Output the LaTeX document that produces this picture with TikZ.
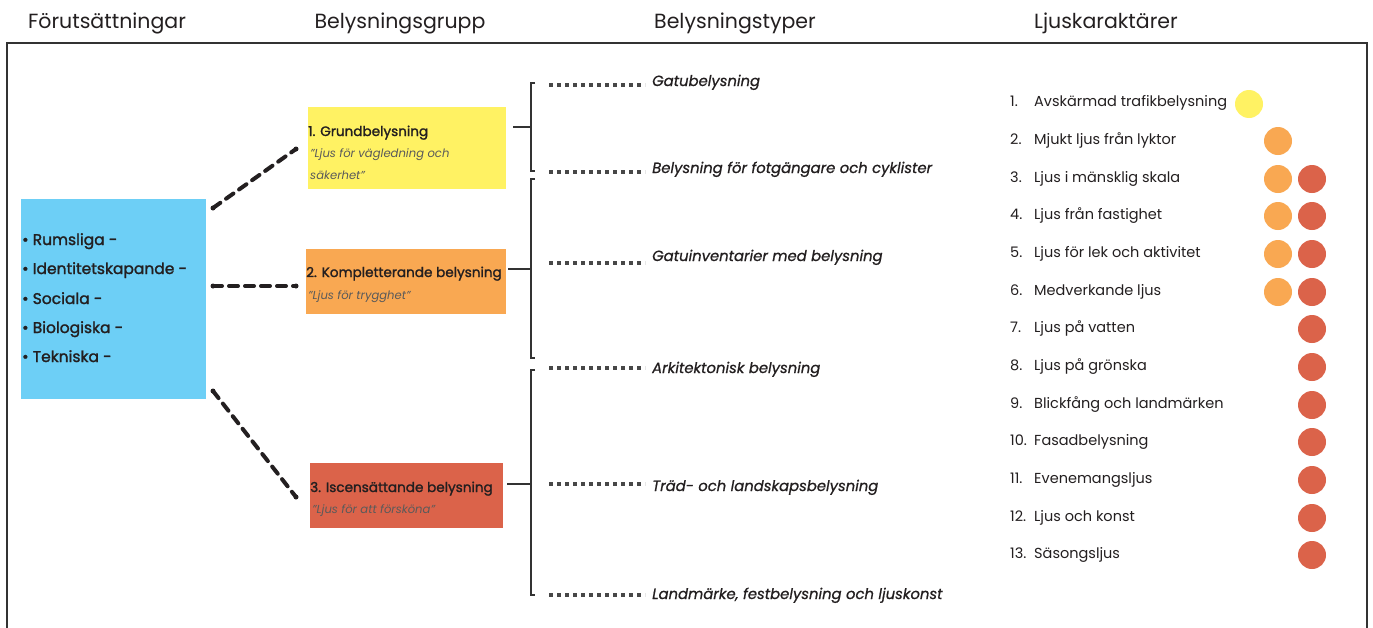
\documentclass[tikz,border=0pt]{standalone}
\usepackage{fontspec}
\setmainfont{Poppins}
\newfontfamily\medfont{Poppins}[FakeBold=1.6]
\newfontfamily\semifont{Poppins}[FakeBold=0.8]
\definecolor{cblue}{HTML}{6DCFF6}
\definecolor{cyel}{HTML}{FFF263}
\definecolor{corg}{HTML}{F9A852}
\definecolor{cred}{HTML}{DB634A}
\definecolor{ctext}{HTML}{231F20}
\definecolor{cquote}{HTML}{5A5A5A}
\definecolor{cline}{HTML}{333333}
\begin{document}
\begin{tikzpicture}[x=1pt,y=-1pt,
  title/.style={anchor=base,inner sep=0,text=ctext,font=\fontsize{20.5}{24}\selectfont},
  box/.style={anchor=north west,inner sep=0,draw=none},
  blue/.style={anchor=base west,inner sep=0,text=ctext,font=\fontsize{15.5}{18}\selectfont\medfont},
  gtitle/.style={anchor=base west,inner sep=0,text=ctext,font=\fontsize{13.6}{16}\selectfont\medfont},
  gquote/.style={anchor=base west,inner sep=0,text=cquote,font=\fontsize{11.6}{14}\selectfont\itshape},
  ttype/.style={anchor=base west,inner sep=0,text=ctext,font=\fontsize{14.8}{17}\selectfont\semifont\itshape},
  item/.style={anchor=base west,inner sep=0,text=ctext,font=\fontsize{14.5}{17}\selectfont},
  conn/.style={line width=4pt,ctext,dash pattern=on 9pt off 7pt,line cap=round},
  dots/.style={line width=4pt,cline!90,dash pattern=on 4pt off 4pt},
  brk/.style={line width=1.5pt,cline},
  dot/.style={circle,minimum size=28pt,inner sep=0,draw=none}
]
\useasboundingbox (0,0) rectangle (1373,627);
\fill[white] (0,0) rectangle (1373,627);
% frame
\draw[line width=2pt,cline] (7,640) -- (7,43) -- (1367,43) -- (1367,640);
% titles
\node[title] (h1) at (107,28) {Förutsättningar};
\node[title] (h2) at (400,28) {Belysningsgrupp};
\node[title] (h3) at (735,28) {Belysningstyper};
\node[title] (h4) at (1106,28) {Ljuskaraktärer};
% blue box
\node[box,fill=cblue,minimum width=185pt,minimum height=200pt] (pre) at (21,199) {};
\node[blue] (b1) at (22,245) {• Rumsliga -};
\node[blue] (b2) at (22,274) {• Identitetskapande -};
\node[blue] (b3) at (22,304) {• Sociala -};
\node[blue] (b4) at (22,333) {• Biologiska -};
\node[blue] (b5) at (22,362) {• Tekniska -};
% group boxes
\node[box,fill=cyel,minimum width=198pt,minimum height=82pt] (g1) at (308,107) {};
\node[gtitle] (g1t) at (308,136) {1. Grundbelysning};
\node[gquote] (g1q) at (310,157) {”Ljus för vägledning och};
\node[gquote] (g1r) at (310,179) {säkerhet”};
\node[box,fill=corg,minimum width=200pt,minimum height=65pt] (g2) at (306,249) {};
\node[gtitle] (g2t) at (306,277) {2. Kompletterande belysning};
\node[gquote] (g2q) at (308,299) {”Ljus för trygghet”};
\node[box,fill=cred,minimum width=193pt,minimum height=65pt] (g3) at (310,463) {};
\node[gtitle] (g3t) at (310,492) {3. Iscensättande belysning};
\node[gquote] (g3q) at (312,513) {”Ljus för att försköna”};
% dashed connectors
\coordinate (c1a) at (213,208); \coordinate (c1b) at (296,149);
\coordinate (c2a) at (213,286); \coordinate (c2b) at (296,286);
\coordinate (c3a) at (213,391); \coordinate (c3b) at (296,497);
\foreach \a/\b in {c1a/c1b,c2a/c2b,c3a/c3b}{
  \draw[conn] (\a) -- (\b);
  \fill[ctext] (\a) circle (2.5pt) (\b) circle (2.5pt);
}
% brackets
\coordinate (s1) at (513,127); \coordinate (s2) at (508,269); \coordinate (s3) at (507,484);
\coordinate (k1) at (531,127); \coordinate (k2) at (531,269); \coordinate (k3) at (531,484);
\draw[brk] (535,83) -- (531,83) -- (531,171) -- (535,171);
\draw[brk] (535,179) -- (531,179) -- (531,358) -- (535,358);
\draw[brk] (535,370) -- (531,370) -- (531,595) -- (535,595);
\draw[brk] (s1) -- (k1);
\draw[brk] (s2) -- (k2);
\draw[brk] (s3) -- (k3);
% types
\foreach \n/\ly/\ty/\txt in {t1/85/86/Gatubelysning,
  t2/172/173/Belysning för fotgängare och cyklister,
  t3/263/261/Gatuinventarier med belysning,
  t4/368/373/Arkitektonisk belysning,
  t5/484/491/Träd- och landskapsbelysning,
  t6/595/599/{Landmärke, festbelysning och ljuskonst}}{
  \coordinate (\n a) at (549,\ly); \coordinate (\n b) at (645,\ly);
  \draw[dots] (\n a) -- (\n b);
  \node[ttype] (\n) at (652,\ty) {\txt};
}
% list
\foreach \i/\y/\txt in {1/101/Avskärmad trafikbelysning,2/139/Mjukt ljus från lyktor,
  3/177/Ljus i mänsklig skala,4/214/Ljus från fastighet,5/252/Ljus för lek och aktivitet,
  6/290/Medverkande ljus,7/327/Ljus på vatten,8/365/Ljus på grönska,
  9/403/Blickfång och landmärken,10/440/Fasadbelysning,11/478/Evenemangsljus,
  12/516/Ljus och konst,13/553/Säsongsljus}{
  \node[item] (n\i) at (1010,\y+5) {\i.};
  \node[item] (l\i) at (1034,\y+5) {\txt};
}
\node[dot,fill=cyel] (y1) at (1249,104) {};
\foreach \i/\y in {2/141,3/179,4/216,5/254,6/292}{
  \node[dot,fill=corg] (o\i) at (1278,\y) {};
}
\foreach \i/\y in {3/179,4/216,5/254,6/292,7/329,8/367,9/405,10/442,11/480,12/518,13/555}{
  \node[dot,fill=cred] (r\i) at (1312,\y) {};
}
\end{tikzpicture}
\end{document}
